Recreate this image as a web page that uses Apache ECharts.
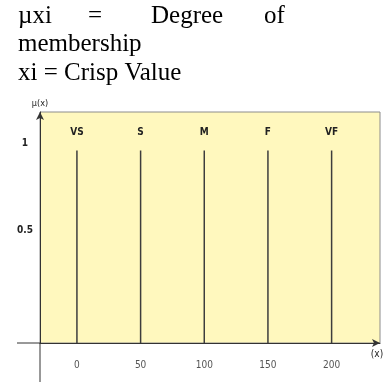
<!DOCTYPE html>
<html>
<head>
<meta charset="utf-8">
<script src="https://cdn.jsdelivr.net/npm/echarts@6/dist/echarts.min.js"></script>
<style>
  html, body { margin: 0; padding: 0; background: #fff; }
  #chart { width: 392px; height: 382px; }
</style>
</head>
<body>
<div id="chart"></div>
<script>
// fuzzy sets and where they sit on the crisp axis
var terms = ['VS', 'S', 'M', 'F', 'VF']
var crispValues = [0, 50, 100, 150, 200]
var membership = [1, 1, 1, 1, 1]
var xTicks = [0, 50, 100, 150, 200]
var yTicks = [0.5, 1]

var narrow = '"Liberation Sans Narrow", "DejaVu Sans Condensed", sans-serif'
var serif = '25px "Liberation Serif", "Times New Roman", serif'

var barData = crispValues.map(function (x, i) { return [x, membership[i]] })

var chart = echarts.init(document.getElementById('chart'), null, { renderer: 'canvas' })

var option = {
    animation: false,
    backgroundColor: '#fff',
    grid: {
        left: 40, right: 12, top: 112, bottom: 39,
        show: true,
        backgroundColor: '#fff8be',
        borderColor: '#8c8c8c',
        borderWidth: 1
    },
    xAxis: {
        type: 'value',
        min: -29,
        max: 238,
        name: '(x)',
        nameLocation: 'end',
        nameGap: -3,
        nameTextStyle: {
            fontFamily: narrow, fontSize: 10, color: '#222',
            align: 'center', verticalAlign: 'top', padding: [6, 0, 0, 0]
        },
        axisLine: {
            show: true,
            onZero: false,
            symbol: ['none', 'arrow'],
            symbolSize: [6, 8],
            lineStyle: { color: '#333', width: 1 }
        },
        axisTick: { show: false },
        splitLine: { show: false },
        axisLabel: {
            customValues: xTicks,
            margin: 17,
            fontFamily: narrow,
            fontSize: 10,
            color: '#555'
        }
    },
    yAxis: {
        type: 'value',
        min: 0,
        max: 1.2,
        name: 'µ(x)',
        nameLocation: 'end',
        nameGap: 4,
        nameTextStyle: { fontFamily: narrow, fontSize: 9, color: '#222', align: 'center' },
        axisLine: {
            show: true,
            onZero: false,
            symbol: ['none', 'arrow'],
            symbolSize: [6, 8],
            lineStyle: { color: '#333', width: 1 }
        },
        axisTick: { show: false },
        splitLine: { show: false },
        axisLabel: {
            customValues: yTicks,
            margin: 15,
            align: 'center',
            fontFamily: narrow,
            fontSize: 10,
            fontWeight: 'bold',
            color: '#222',
            formatter: function (v) {
                return v === 1 ? '{one|1}' : '{half|' + v + '}'
            },
            rich: {
                one: { fontFamily: narrow, fontSize: 10, fontWeight: 'bold', color: '#222', padding: [0, 0, 14, 0] },
                half: { fontFamily: narrow, fontSize: 10, fontWeight: 'bold', color: '#222', padding: [0, 0, 32, 0] }
            }
        }
    },
    series: [{
        type: 'bar',
        data: barData,
        barWidth: 1.5,
        itemStyle: { color: '#3d3d3d' },
        label: {
            show: true,
            position: 'top',
            distance: 13,
            fontFamily: narrow,
            fontSize: 10,
            fontWeight: 'bold',
            color: '#222',
            formatter: function (p) { return terms[p.dataIndex] }
        }
    }],
    graphic: [
        // little stubs where the axes run past the plot box
        { type: 'line', shape: { x1: 17, y1: 343, x2: 40, y2: 343 }, style: { stroke: '#333', lineWidth: 1 } },
        { type: 'line', shape: { x1: 40, y1: 343, x2: 40, y2: 382 }, style: { stroke: '#333', lineWidth: 1 } },
        // caption text above the chart
        { type: 'text', style: { text: 'µxi', x: 18, y: 16, font: serif, fill: '#000', verticalAlign: 'middle' } },
        { type: 'text', style: { text: '=', x: 88, y: 16, font: serif, fill: '#000', verticalAlign: 'middle' } },
        { type: 'text', style: { text: 'Degree', x: 151, y: 16, font: serif, fill: '#000', verticalAlign: 'middle' } },
        { type: 'text', style: { text: 'of', x: 264, y: 16, font: serif, fill: '#000', verticalAlign: 'middle' } },
        { type: 'text', style: { text: 'membership', x: 18, y: 44.5, font: serif, fill: '#000', verticalAlign: 'middle' } },
        { type: 'text', style: { text: 'xi = Crisp Value', x: 18, y: 73, font: serif, fill: '#000', verticalAlign: 'middle' } }
    ]
}

chart.setOption(option)
</script>
</body>
</html>
